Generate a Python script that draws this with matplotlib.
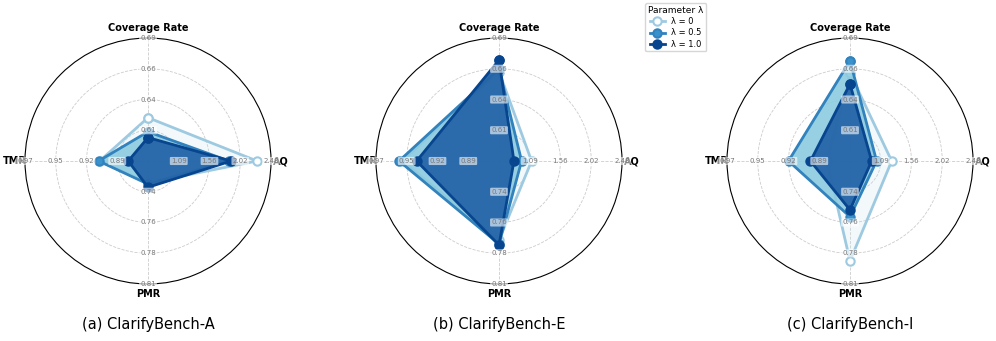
import numpy as np
import matplotlib.pyplot as plt

# axes: Coverage Rate (top), AQ (right), PMR (bottom), TMR (left)
metrics = ['Coverage Rate', 'AQ', 'PMR', 'TMR']
axis_min = [0.585, 0.63, 0.712, 0.862]
axis_max = [0.690, 2.48, 0.808, 0.974]
ring_levels = [0.25, 0.5, 0.75, 1.0]

lambdas = ['λ = 0', 'λ = 0.5', 'λ = 1.0']
panels = ['(a) ClarifyBench-A', '(b) ClarifyBench-E', '(c) ClarifyBench-I']

# raw scores, order: Coverage, AQ, PMR, TMR
bench_a = [[0.622, 2.27, 0.729, 0.906],
           [0.610, 1.85, 0.730, 0.907],
           [0.605, 1.88, 0.7325, 0.880]]
bench_e = [[0.6613, 1.12, 0.7737, 0.950],
           [0.6635, 0.97, 0.7768, 0.953],
           [0.6712, 0.855, 0.7776, 0.937]]
bench_i = [[0.660, 1.257, 0.790, 0.883],
           [0.6706, 1.03, 0.7555, 0.918],
           [0.6507, 0.956, 0.7502, 0.898]]
bench_data = [bench_a, bench_e, bench_i]

line_colors = ['#9ecae1', '#3182bd', '#08458f']
fill_colors = ['#c6e2ef', '#8ccbe0', '#2565a8']
fill_alpha = [0.2, 0.9, 0.95]
marker_faces = ['white', '#3a92cc', '#08458f']

angles = np.linspace(0, 2 * np.pi, len(metrics), endpoint=False)
lo = np.array(axis_min)
hi = np.array(axis_max)

fig = plt.figure(figsize=(9.96, 3.41), dpi=100)
centers = [148, 499, 850]
R = 123
handles = []
for k, (name, data) in enumerate(zip(panels, bench_data)):
    ax = fig.add_axes([(centers[k] - R) / 996, (341 - 284) / 341, 2 * R / 996, 2 * R / 341],
                      projection='polar')
    ax.set_theta_offset(np.pi / 2)
    ax.set_theta_direction(-1)
    ax.set_ylim(0, 1)
    ax.set_yticks(ring_levels[:-1])
    ax.set_yticklabels([])
    ax.set_xticks(angles)
    ax.set_xticklabels(metrics, fontsize=7, fontweight='bold')
    ax.tick_params(axis='x', pad=-3.5)
    ax.grid(True, color='#cccccc', linestyle='--', linewidth=0.6)
    ax.spines['polar'].set_linewidth(0.8)

    for i, vals in enumerate(data):
        r = (np.array(vals) - lo) / (hi - lo)
        th = np.append(angles, angles[0])
        rr = np.append(r, r[0])
        ax.fill(th, rr, color=fill_colors[i], alpha=fill_alpha[i], zorder=2 + i)
        h, = ax.plot(th, rr, color=line_colors[i], linewidth=2, marker='o',
                     markersize=6, markerfacecolor=marker_faces[i],
                     markeredgecolor=line_colors[i], markeredgewidth=1.5,
                     label=lambdas[i], zorder=3 + i)
        if k == 0:
            handles.append(h)

    # per-axis scale labels
    for j, a in enumerate(angles):
        for lev in ring_levels:
            v = lo[j] + lev * (hi[j] - lo[j])
            ax.text(a, lev, f'{v:.2f}', fontsize=5, color='#777777',
                    ha='center', va='center', zorder=10,
                    bbox=dict(boxstyle='round,pad=0.15', fc='white', ec='none', alpha=0.6))

    fig.text(centers[k] / 996, 0.047, name, ha='center', va='center', fontsize=10.5)

fig.legend(handles=handles, title='Parameter λ', loc='upper left',
           bbox_to_anchor=(645 / 996, 0.99), fontsize=6, title_fontsize=6.5,
           handlelength=1.8, borderpad=0.35, labelspacing=0.25, borderaxespad=0,
           frameon=True)

fig.savefig('out.png', dpi=100)
